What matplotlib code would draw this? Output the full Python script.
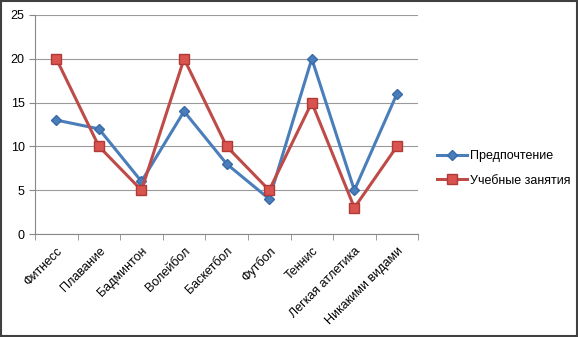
import numpy as np
import matplotlib.pyplot as plt
from matplotlib.patches import Rectangle

plt.rcParams['font.family'] = ['Liberation Sans', 'DejaVu Sans']

categories = ['Фитнесс', 'Плавание', 'Бадминтон', 'Волейбол', 'Баскетбол',
              'Футбол', 'Теннис', 'Легкая атлетика', 'Никакими видами']
preference = [13, 12, 6, 14, 8, 4, 20, 5, 16]
lessons = [20, 10, 5, 20, 10, 5, 15, 3, 10]

fig = plt.figure(figsize=(5.78, 3.37), dpi=100)
ax = fig.add_axes([0.0606, 0.3056, 0.663, 0.650])

x = np.arange(len(categories))
ax.plot(x, preference, color='#4a7ebb', lw=2.2, marker='D', ms=5.5,
        mfc='#4a7ebb', mec='#3a6aa8', label='Предпочтение', zorder=3)
ax.plot(x, lessons, color='#be4b48', lw=2.2, marker='s', ms=7.5,
        mfc='#d9534f', mec='#b03a37', label='Учебные занятия', zorder=3)

ax.set_xlim(-0.5, len(categories) - 0.5)
ax.set_ylim(0, 25)
ax.set_yticks([0, 5, 10, 15, 20, 25])
ax.grid(axis='y', color='#9a9a9a', lw=0.8)
ax.set_axisbelow(True)

ax.set_xticks(x)
ax.set_xticklabels(categories, rotation=45, ha='right', rotation_mode='anchor',
                   fontsize=9)
ax.tick_params(axis='x', length=0, pad=8)
ax.set_xticks(np.arange(-0.5, len(categories)), minor=True)
ax.tick_params(axis='x', which='minor', length=4, color='#888888')
ax.tick_params(axis='y', length=4, color='#888888', labelsize=9)

for s in ['top', 'right']:
    ax.spines[s].set_visible(False)
ax.spines['left'].set_color('#888888')
ax.spines['bottom'].set_color('#888888')

ax.legend(loc='center left', bbox_to_anchor=(1.02, 0.30), frameon=False,
          fontsize=9, handlelength=2.4, labelspacing=1.0, handletextpad=0.2)

fig.patches.append(Rectangle((0.002, 0.003), 0.996, 0.994, transform=fig.transFigure,
                             fill=False, ec='#404040', lw=1.5))

fig.savefig('out.png', dpi=100)
